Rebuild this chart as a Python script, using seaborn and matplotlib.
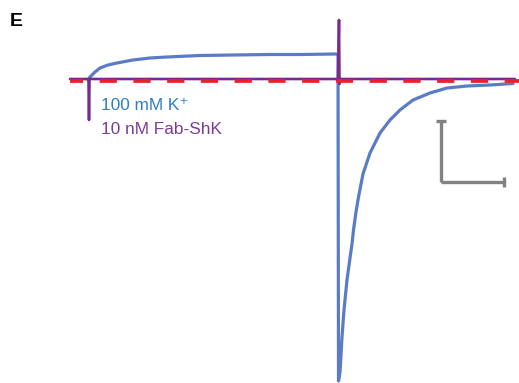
import matplotlib
matplotlib.use("Agg")
import matplotlib.pyplot as plt
import seaborn as sns

sns.set_theme(style="white")
plt.rcParams['font.family'] = ['Liberation Sans', 'DejaVu Sans']

# K+ current trace (time in ms, current in arbitrary units; 0 = baseline)
k_time = [0, 2, 7, 12, 20, 29, 45, 62, 79, 112, 145, 182, 212, 248, 250,
          250.5, 252, 253, 254, 256, 259, 262, 264, 265.5, 268, 270.5, 275,
          282, 292, 302, 312, 325, 342, 359, 379, 402, 425]
k_curr = [0, 3, 8, 12, 15, 17, 20, 22, 23, 24.5, 25, 25.5, 25.5, 26, 25,
          -301, -292, -275, -257, -230, -200, -178, -164, -150, -132, -117, -94,
          -73, -53, -40, -30, -20, -13, -8, -6, -5, -3.5]

# Fab-ShK trace
f_time = [-18, 0.5, 1, 1.5, 250, 251, 251.5, 252, 427]
f_curr = [1, 1, -40, 1, 1, 60, -4, 1, 1]

# zero-current reference
ref_time = [-18, 431]
ref_curr = [-0.5, -0.5]

# scale bar (x: ms, y: current units)
bar_t0, bar_t1 = 353, 416
bar_i0, bar_i1 = -102, -41

fig = plt.figure(figsize=(5.19, 3.83), dpi=100)
ax = fig.add_axes([0, 0, 1, 1])

sns.lineplot(x=k_time, y=k_curr, sort=False, estimator=None, ax=ax,
             color="#5a7cc6", linewidth=2.3, zorder=2)
sns.lineplot(x=f_time, y=f_curr, sort=False, estimator=None, ax=ax,
             color="#7a2a8c", linewidth=1.9, zorder=3)
sns.lineplot(x=ref_time, y=ref_curr, sort=False, estimator=None, ax=ax,
             color="#e8222c", linewidth=2.7, zorder=4)
ax.lines[-1].set_linestyle((1.1, (4.6, 4.4)))
ax.lines[-1].set_dash_capstyle("butt")

# scale bar
gray = "#828282"
kw = dict(color=gray, lw=2.4, solid_capstyle="butt")
ax.plot([bar_t0, bar_t0], [bar_i0, bar_i1], **kw)
ax.plot([bar_t0, bar_t1], [bar_i0, bar_i0], **kw)
ax.plot([bar_t0 - 5, bar_t0 + 5], [bar_i1, bar_i1], **kw)
ax.plot([bar_t1, bar_t1], [bar_i0 - 5, bar_i0 + 5], **kw)

ax.text(13, -25, "100 mM K\u207a", color="#2f7dc2", fontsize=12.4, va="center", ha="left")
ax.text(13, -49, "10 nM Fab-ShK", color="#7b3c98", fontsize=12.4, va="center", ha="left")
ax.text(-78, 59, "E", color="black", fontsize=14, fontweight="bold", va="center", ha="left")

ax.set_xlim(-88, 431)
ax.set_ylim(-303, 80)
ax.axis("off")
fig.savefig("out.png", dpi=100)
